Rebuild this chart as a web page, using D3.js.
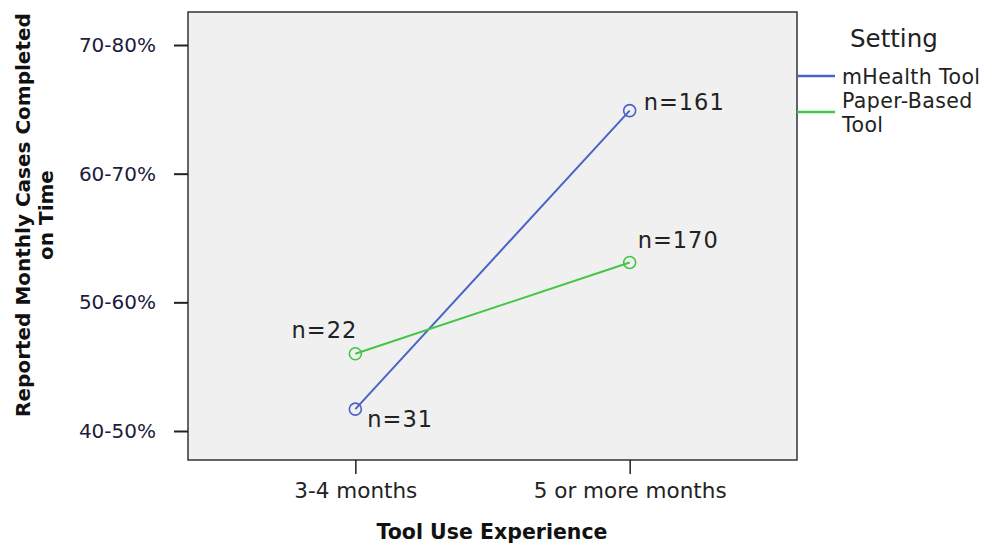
<!DOCTYPE html>
<html>
<head>
<meta charset="utf-8">
<script src="https://cdn.jsdelivr.net/npm/d3@7"></script>
<style>
  body { margin: 0; background: #fff; }
  text { font-family: "DejaVu Sans", Verdana, sans-serif; }
</style>
</head>
<body>
<div id="chart"></div>
<script>
// Data
// y values are positions on the ordinal response scale (1 = 40-50%, 4 = 70-80%)
const experience = ["3-4 months", "5 or more months"];
const yTickLabels = ["40-50%", "50-60%", "60-70%", "70-80%"];
const settings = ["mHealth Tool", "Paper-Based Tool"];
const mhealthValues = [1.17, 3.49];
const paperValues = [1.60, 2.31];
const mhealthN = [31, 161];
const paperN = [22, 170];

const width = 993, height = 550;
const plot = { left: 188, right: 797, top: 12, bottom: 460 };
const colors = ["#4a63c8", "#45c545"];

const svg = d3.select("#chart").append("svg")
  .attr("width", width)
  .attr("height", height);

// scales
const xScale = d3.scalePoint()
  .domain(experience)
  .range([plot.left, plot.right])
  .padding(0.61);

const yScale = d3.scaleLinear()
  .domain([1, 4])
  .range([431, 45]);

// plot background + frame
svg.append("rect")
  .attr("x", plot.left).attr("y", plot.top)
  .attr("width", plot.right - plot.left)
  .attr("height", plot.bottom - plot.top)
  .attr("fill", "#f0f0f0")
  .attr("stroke", "#333")
  .attr("stroke-width", 1.5);

// y axis
const yAxis = svg.append("g")
  .attr("transform", `translate(${plot.left}, 0)`)
  .call(d3.axisLeft(yScale)
    .tickValues([1, 2, 3, 4])
    .tickFormat(d => yTickLabels[d - 1])
    .tickSize(14)
    .tickPadding(18));
yAxis.select(".domain").remove();
yAxis.selectAll(".tick line").attr("stroke", "#222").attr("stroke-width", 2);
yAxis.selectAll(".tick text")
  .attr("font-size", "20px")
  .attr("fill", "#1c1c3c");

// x axis
const xAxis = svg.append("g")
  .attr("transform", `translate(0, ${plot.bottom})`)
  .call(d3.axisBottom(xScale).tickSize(14).tickPadding(9));
xAxis.select(".domain").remove();
xAxis.selectAll(".tick line").attr("stroke", "#222").attr("stroke-width", 1.5);
xAxis.selectAll(".tick text")
  .attr("font-size", "21.5px")
  .attr("fill", "#222");

// axis titles
svg.append("text")
  .attr("x", 492).attr("y", 539)
  .attr("text-anchor", "middle")
  .attr("font-size", "20.5px")
  .attr("font-weight", "bold")
  .attr("fill", "#111")
  .text("Tool Use Experience");

const yTitle = svg.append("text")
  .attr("transform", "translate(30, 215) rotate(-90)")
  .attr("text-anchor", "middle")
  .attr("font-size", "20px")
  .attr("font-weight", "bold")
  .attr("fill", "#111");
yTitle.append("tspan").attr("x", 0).attr("y", 0).text("Reported Monthly Cases Completed");
yTitle.append("tspan").attr("x", 0).attr("y", 23).text("on Time");

// series
const series = [
  { name: settings[0], values: mhealthValues, n: mhealthN, color: colors[0],
    labelOffsets: [[12, 18, "start"], [14, -1, "start"]] },
  { name: settings[1], values: paperValues, n: paperN, color: colors[1],
    labelOffsets: [[2, -16, "end"], [8, -14, "start"]] }
];

const lineGen = d3.line()
  .x((d, i) => xScale(experience[i]))
  .y(d => yScale(d));

series.forEach(s => {
  svg.append("path")
    .datum(s.values)
    .attr("fill", "none")
    .attr("stroke", s.color)
    .attr("stroke-width", 2)
    .attr("d", lineGen);

  svg.append("g").selectAll("circle")
    .data(s.values)
    .join("circle")
    .attr("cx", (d, i) => xScale(experience[i]))
    .attr("cy", d => yScale(d))
    .attr("r", 6)
    .attr("fill", "none")
    .attr("stroke", s.color)
    .attr("stroke-width", 1.6);

  svg.append("g").selectAll("text")
    .data(s.values)
    .join("text")
    .attr("x", (d, i) => xScale(experience[i]) + s.labelOffsets[i][0])
    .attr("y", (d, i) => yScale(d) + s.labelOffsets[i][1])
    .attr("text-anchor", (d, i) => s.labelOffsets[i][2])
    .attr("font-size", "22.5px")
    .attr("letter-spacing", "1px")
    .attr("fill", "#222")
    .text((d, i) => "n=" + s.n[i]);
});

// legend
const legend = svg.append("g");
legend.append("text")
  .attr("x", 850).attr("y", 47)
  .attr("font-size", "24.5px")
  .attr("fill", "#222")
  .text("Setting");

const legendRows = [
  { color: colors[0], lineY: 76, lines: ["mHealth Tool"], textY: 84 },
  { color: colors[1], lineY: 112, lines: ["Paper-Based", "Tool"], textY: 108 }
];
legendRows.forEach(r => {
  legend.append("line")
    .attr("x1", 797).attr("x2", 835)
    .attr("y1", r.lineY).attr("y2", r.lineY)
    .attr("stroke", r.color)
    .attr("stroke-width", 2.5);
  r.lines.forEach((ln, j) => {
    legend.append("text")
      .attr("x", 842).attr("y", r.textY + j * 24)
      .attr("font-size", "20.5px")
      .attr("letter-spacing", "0.4px")
      .attr("fill", "#222")
      .text(ln);
  });
});
</script>
</body>
</html>
